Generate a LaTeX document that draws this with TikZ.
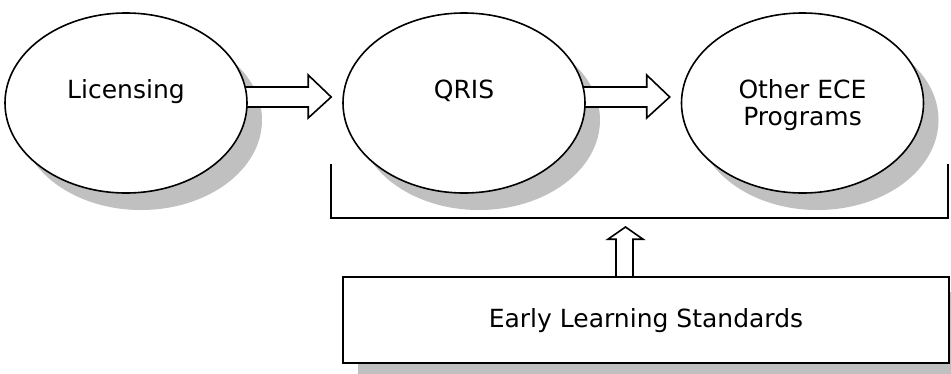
\documentclass[tikz,border=0pt]{standalone}
\usepackage{fontspec}
\setmainfont{DejaVu Sans}
\usetikzlibrary{calc,shapes.geometric}
\pgfdeclarelayer{paperlayer}
\pgfdeclarelayer{shadowlayer}
\pgfdeclarelayer{arrowlayer}
\pgfsetlayers{paperlayer,shadowlayer,arrowlayer,main}
\definecolor{shadowgray}{HTML}{C0C0C0}
\begin{document}
\begin{tikzpicture}[x=1pt,y=-1pt,
  oval/.style={ellipse, draw, line width=1.6pt, fill=white, minimum width=242pt, minimum height=180pt, inner sep=0pt},
  stdbox/.style={rectangle, draw, line width=1.6pt, fill=white, minimum width=606pt, minimum height=86pt, inner sep=0pt},
  txt/.style={font=\fontsize{25}{27}\selectfont, inner sep=0pt, align=center},
  blockarrow/.style={draw, line width=1.6pt, fill=white, line join=miter},
  bracketline/.style={draw, line width=1.6pt}]
\clip (0,0) rectangle (951,373);
\begin{pgfonlayer}{paperlayer}
  \fill[white] (0,0) rectangle (951,373);
\end{pgfonlayer}
% nodes
\node[oval] (lic) at (126,103) {};
\node[oval] (qris) at (464,103) {};
\node[oval] (ece) at (802.5,103) {};
\node[stdbox] (els) at (646,320) {};
\node[txt, anchor=base] (lict) at (126,98) {Licensing};
\node[txt, anchor=base] (qrist) at (464,98) {QRIS};
\node[txt] (ecet) at (802.5,105) {Other ECE\\Programs};
\node[txt] (elst) at (646,321) {Early Learning Standards};
% bracket
\coordinate (brtl) at (331,164);
\coordinate (brbl) at (331,218);
\coordinate (brbr) at (948,218);
\coordinate (brtr) at (948,164);
\draw[bracketline] (brtl) -- (brbl) -- (brbr) -- (brtr);
% shadows
\begin{pgfonlayer}{shadowlayer}
  \foreach \n in {lic,qris,ece}
    \fill[shadowgray] ($(\n.center)+(15,17)$) ellipse [x radius=121pt, y radius=90pt];
  \fill[shadowgray] ($(els.north west)+(16,16)$) rectangle ($(els.south east)+(16,16)$);
\end{pgfonlayer}
% block arrows
\begin{pgfonlayer}{arrowlayer}
  \foreach \a/\b in {lic/qris, qris/ece}
    \draw[blockarrow] ($(\a.east)+(-6,-16)$) -- ($(\b.west)+(-34,-16)$) -- ($(\b.west)+(-34,-28)$)
      -- ($(\b.west)+(-11,-6)$) -- ($(\b.west)+(-34,15)$) -- ($(\b.west)+(-34,4)$)
      -- ($(\a.east)+(-6,4)$) -- cycle;
  \draw[blockarrow] ($(els.north)+(-30,3)$) -- ($(els.north)+(-30,-37)$) -- ($(els.north)+(-38,-37)$)
      -- ($(brbl)!0.5!(brbr)+(-14,9)$) -- ($(els.north)+(-3,-37)$) -- ($(els.north)+(-13,-37)$)
      -- ($(els.north)+(-13,3)$) -- cycle;
\end{pgfonlayer}
\end{tikzpicture}
\end{document}
